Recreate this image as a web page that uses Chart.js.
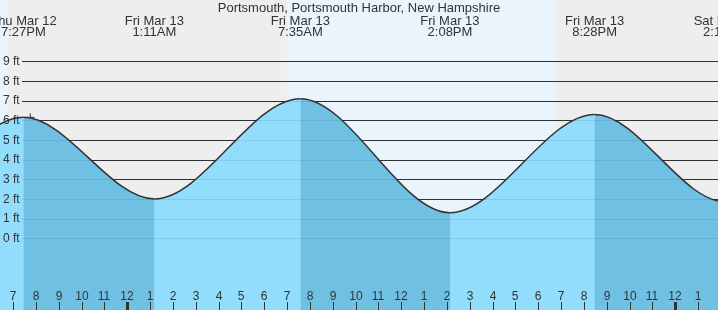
<!DOCTYPE html>
<html>
<head>
<meta charset="utf-8">
<script src="https://cdn.jsdelivr.net/npm/chart.js@4/dist/chart.umd.min.js"></script>
<style>
  html, body { margin: 0; padding: 0; background: #fff; }
  canvas { display: block; }
</style>
</head>
<body>
<canvas id="tide" width="718" height="310"></canvas>
<script>
const stationName = 'Portsmouth, Portsmouth Harbor, New Hampshire';

// hours counted from midnight, Fri Mar 13
const tideHours = [-17.0, -10.8, -4.55, 1.183, 7.583, 14.133, 20.467, 26.2, 32.6];
const tideFeet = [6.7, 1.4, 6.15, 2.0, 7.1, 1.3, 6.3, 1.85, 6.8];
const tideDays = ['Thu Mar 12', 'Thu Mar 12', 'Thu Mar 12', 'Fri Mar 13', 'Fri Mar 13', 'Fri Mar 13', 'Fri Mar 13', 'Sat Mar 14', 'Sat Mar 14'];
const tideTimes = ['7:00AM', '1:12PM', '7:27PM', '1:11AM', '7:35AM', '2:08PM', '8:28PM', '2:12AM', '8:36AM'];

// daylight spans (sunrise, sunset)
const daylight = [[-12, -5.22], [6.99, 18.78]];

const nowHours = [-4.25];
const nowFeet = [6.15];

const feetTicks = [0, 1, 2, 3, 4, 5, 6, 7, 8, 9];
const feetLabels = ['0 ft', '1 ft', '2 ft', '3 ft', '4 ft', '5 ft', '6 ft', '7 ft', '8 ft', '9 ft'];

const hourTicks = [-5, -4, -3, -2, -1, 0, 1, 2, 3, 4, 5, 6, 7, 8, 9, 10, 11, 12,
  13, 14, 15, 16, 17, 18, 19, 20, 21, 22, 23, 24, 25];
const hourLabels = ['7', '8', '9', '10', '11', '12', '1', '2', '3', '4', '5', '6', '7', '8', '9', '10', '11', '12',
  '1', '2', '3', '4', '5', '6', '7', '8', '9', '10', '11', '12', '1'];
const midnights = [0, 24];

const NIGHT = '#eeeeee';
const DAY = '#eaf4fc';
const RISING = 'rgb(146,220,252)';
const FALLING = 'rgb(112,192,228)';
const INK = '#333333';
const FONT = '"Liberation Sans", Arial, sans-serif';

const tidePoints = tideHours.map((h, i) => ({ x: h, y: tideFeet[i] }));

function gridLines(chart, color) {
  const { ctx, chartArea, scales: { y } } = chart;
  ctx.save();
  ctx.strokeStyle = color;
  ctx.lineWidth = 1;
  feetTicks.forEach(v => {
    const py = Math.round(y.getPixelForValue(v)) + 0.5;
    ctx.beginPath();
    ctx.moveTo(22, py);
    ctx.lineTo(chartArea.right, py);
    ctx.stroke();
  });
  ctx.restore();
}

const tideDecor = {
  id: 'tideDecor',
  beforeDraw(chart) {
    const { ctx, width, height, scales: { x } } = chart;
    ctx.save();
    ctx.fillStyle = NIGHT;
    ctx.fillRect(0, 0, width, height);
    ctx.fillStyle = DAY;
    daylight.forEach(([a, b]) => {
      const x0 = Math.round(x.getPixelForValue(a));
      const x1 = Math.round(x.getPixelForValue(b));
      ctx.fillRect(x0, 0, x1 - x0, height);
    });
    ctx.restore();
  },
  beforeDatasetsDraw(chart) {
    gridLines(chart, INK);
  },
  afterDatasetsDraw(chart) {
    const { ctx, width, height, scales: { x, y } } = chart;
    // faint lines showing through the water
    gridLines(chart, 'rgba(0,40,80,0.1)');

    ctx.save();
    ctx.fillStyle = INK;

    // depth labels
    ctx.font = '12px ' + FONT;
    ctx.textAlign = 'left';
    ctx.textBaseline = 'middle';
    feetTicks.forEach((v, i) => {
      ctx.fillText(feetLabels[i], 3, y.getPixelForValue(v) + 0.5);
    });

    // hour labels and ticks
    ctx.textAlign = 'center';
    ctx.textBaseline = 'alphabetic';
    hourTicks.forEach((h, i) => {
      const px = Math.round(x.getPixelForValue(h));
      ctx.fillText(hourLabels[i], px, 300);
      if (midnights.includes(h)) {
        ctx.fillRect(px - 1, 302, 3, height - 302);
      } else {
        ctx.fillRect(px, 302, 1, height - 302);
      }
    });

    // high / low labels
    ctx.font = '13px ' + FONT;
    tideHours.forEach((h, i) => {
      const px = x.getPixelForValue(h);
      ctx.fillText(tideDays[i], px, 25);
      ctx.fillText(tideTimes[i], px, 36);
    });

    ctx.fillText(stationName, width / 2, 12);
    ctx.restore();
  }
};

new Chart(document.getElementById('tide'), {
  type: 'line',
  data: {
    datasets: [
      {
        label: 'tide',
        data: tidePoints,
        borderColor: INK,
        borderWidth: 1.5,
        pointRadius: 0,
        cubicInterpolationMode: 'monotone',
        fill: 'start',
        backgroundColor: RISING,
        segment: {
          backgroundColor: c => (c.p1.parsed.y < c.p0.parsed.y ? FALLING : RISING),
        },
      },
      {
        label: 'now',
        data: nowHours.map((h, i) => ({ x: h, y: nowFeet[i] })),
        showLine: false,
        pointStyle: 'cross',
        pointRadius: 4,
        borderColor: INK,
        borderWidth: 1,
      },
      {
        // plain water underneath, hides seams between the shaded stretches
        label: 'water',
        data: tidePoints,
        borderWidth: 0,
        pointRadius: 0,
        cubicInterpolationMode: 'monotone',
        fill: 'start',
        backgroundColor: RISING,
      },
    ],
  },
  options: {
    responsive: false,
    animation: false,
    devicePixelRatio: 1,
    layout: { padding: 0, autoPadding: false },
    plugins: {
      legend: { display: false },
      tooltip: { enabled: false },
    },
    scales: {
      x: { type: 'linear', min: -5.576, max: 25.874, display: false },
      y: { type: 'linear', min: -3.645, max: 12.115, display: false },
    },
  },
  plugins: [tideDecor],
});
</script>
</body>
</html>
